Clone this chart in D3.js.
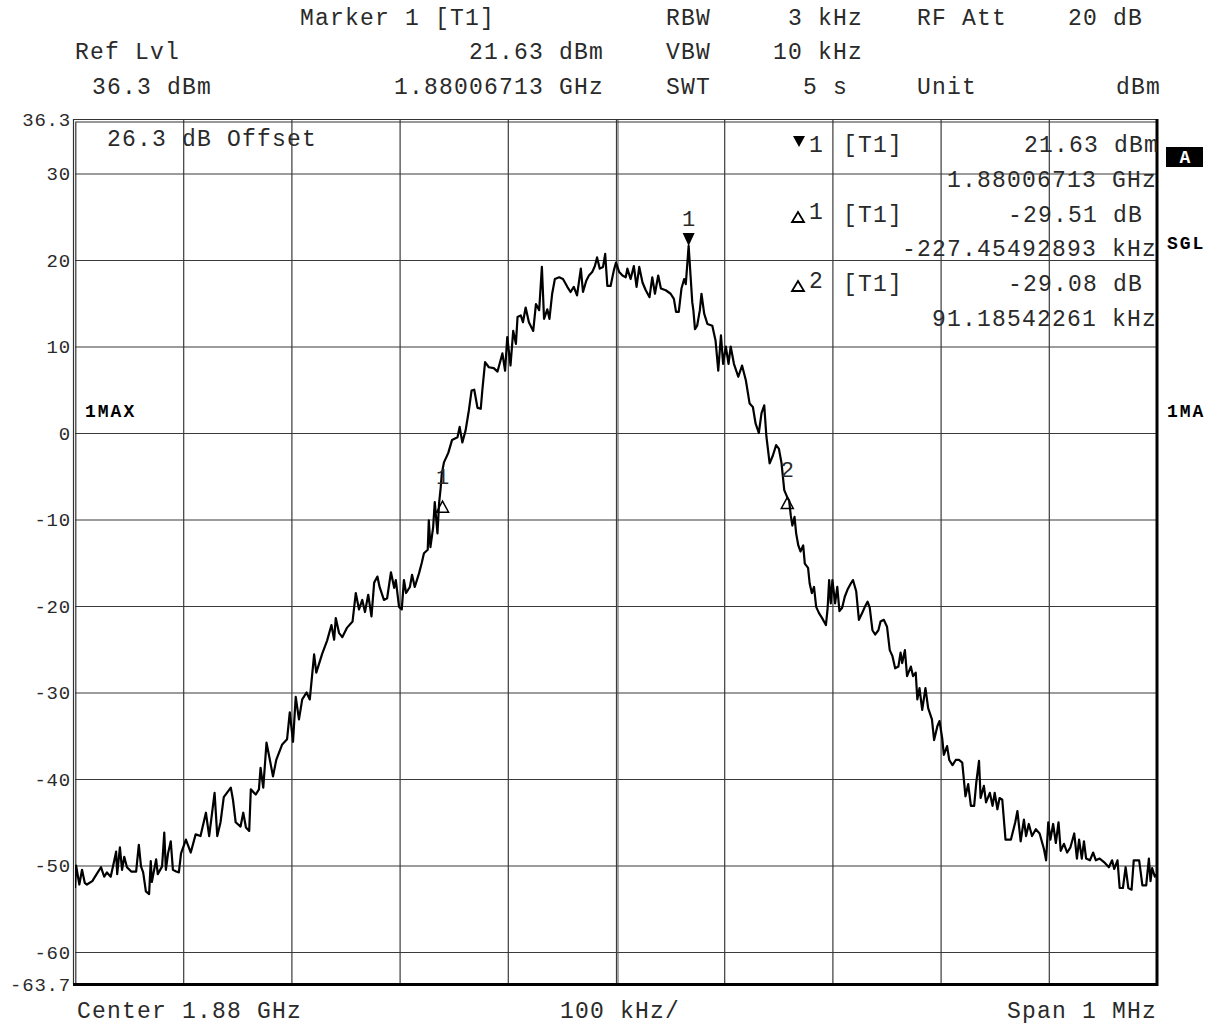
<!DOCTYPE html>
<html>
<head>
<meta charset="utf-8">
<script src="https://cdn.jsdelivr.net/npm/d3@7"></script>
<style>
  body { margin: 0; background: #fff; }
  svg { display: block; }
  text { font-family: "Liberation Mono", "DejaVu Sans Mono", monospace; fill: #2a2a2a; }
  .bold { font-weight: bold; fill: #000; }
</style>
</head>
<body>
<script>
// Trace: frequency offset from centre (kHz) and level (dBm).
const traceFreq = [
  -500, -499, -496, -493.5, -491, -489, -484, -480, -476, -473, -470.5, -467, -464, -462, -461,
  -458.5, -456.5, -454.5, -452, -448, -443.5, -441, -439, -437, -434.5, -431.5, -430, -429, -425,
  -423.5, -419.5, -417.5, -416, -414, -411.5, -409.5, -406.5, -404, -402, -397.5, -393, -388.5,
  -384, -379, -376, -371, -368.5, -365.5, -362.5, -356, -354, -351.5, -347, -344.5, -342, -339,
  -337.5, -333, -330, -328.5, -326, -323, -320.5, -317, -314, -308.5, -304, -301.5, -298.5, -296,
  -293, -290, -286, -283, -279, -277, -271.5, -267, -263, -260.5, -259, -256, -253, -248.5, -243.5,
  -240.5, -237.5, -234.5, -232, -229, -226, -223.5, -220.5, -218.5, -214.5, -211.5, -208, -205,
  -203.5, -200.5, -198, -196, -194, -190.5, -188.5, -186, -182, -179.5, -177.5, -174, -173, -171.5,
  -169, -167.5, -165, -163.5, -162, -161, -159, -155, -151.5, -146.5, -144.5, -142, -139, -136,
  -133.5, -131, -128, -125, -123.5, -121, -117.5, -113, -109.5, -105, -102.5, -100.5, -97.5, -95,
  -92.5, -91, -88, -86, -83.5, -80.5, -76.5, -74, -71, -68.5, -66.5, -63.5, -61.5, -59, -56.5,
  -52.5, -49, -45, -42, -39, -36, -32.5, -30.5, -27.5, -25, -22, -19.5, -17.5, -15, -12, -10, -8,
  -5, -2, 0, 3, 6, 9, 10.5, 13.5, 16.5, 19, 21.5, 24.5, 27.5, 31, 33.5, 36, 39, 41.5, 46, 50.5,
  53.5, 55.5, 58, 60.5, 63, 64.5, 67.13, 69, 70.5, 71.5, 73, 75, 77.5, 79, 81.5, 84.5, 89, 92,
  94.5, 97, 99, 101.5, 104, 106, 109, 113, 116.5, 120, 123.5, 126.5, 129, 132, 134.5, 137, 139,
  142, 145, 148, 150.5, 153, 155.5, 158.32, 160, 161.5, 163, 165, 166.5, 168.5, 170.5, 173, 174.5,
  177.5, 179, 181, 183, 185, 187.5, 190.5, 194, 195.5, 197, 198.5, 200, 202.5, 204.5, 206.5, 209,
  211.5, 214, 217, 219, 222, 224.5, 227.5, 230, 232.5, 234.5, 237, 239.5, 242.5, 244.5, 247.5,
  250.5, 253, 255.5, 258, 261, 263, 264.5, 267, 269, 272.5, 274.5, 277, 278.5, 280.5, 283, 286,
  288.5, 292, 294, 297, 299, 301.5, 303, 306, 308, 311, 314, 317, 320, 323, 325.5, 328, 331, 333,
  335.5, 337, 340, 342, 345.5, 348, 350, 352.5, 354.5, 357, 360, 365, 369, 371, 374, 377, 379,
  381.5, 384.5, 388, 391.5, 395.5, 397.5, 399.5, 401.5, 404, 406.5, 409, 411, 414, 417, 420,
  423.5, 426, 428, 430.5, 432.5, 434.5, 438, 441, 443.5, 447, 451, 455.5, 458.5, 460.5, 463.5,
  465.5, 468.5, 471, 473.5, 476.5, 478.5, 483.5, 486.5, 490, 492.5, 494, 495.5, 498, 500
];
const traceLevel = [
  -52.6, -50.0, -52.2, -50.5, -52.0, -52.2, -51.8, -51.0, -50.2, -51.3, -50.8, -51.3, -49.6, -48.4, -51.0,
  -47.9, -50.5, -49.0, -50.2, -50.7, -50.7, -47.6, -50.1, -50.8, -53.0, -53.3, -49.5, -51.9, -49.3,
  -51.0, -50.1, -46.2, -50.5, -48.6, -47.2, -50.5, -50.7, -50.8, -48.6, -47.0, -48.5, -46.4,
  -46.6, -43.9, -46.6, -41.6, -46.6, -45.0, -42.1, -41.0, -42.4, -45.0, -45.5, -43.9, -45.6, -46.0,
  -41.2, -41.8, -41.2, -38.7, -41.0, -35.8, -37.4, -39.7, -37.8, -36.0, -35.4, -32.3, -35.7, -30.5,
  -33.1, -30.8, -30.0, -30.8, -25.6, -27.7, -25.5, -24.0, -22.2, -23.9, -21.4, -23.1, -23.6, -22.5, -21.8,
  -18.5, -20.4, -19.3, -20.7, -18.7, -21.2, -17.3, -16.6, -17.8, -19.3, -19.1, -16.1, -17.9,
  -17.0, -20.1, -20.4, -17.0, -18.5, -17.8, -16.4, -17.8, -16.2, -15.0, -13.9, -13.5, -10.1, -13.2,
  -10.9, -8.0, -11.6, -8.1, -6.3, -4.7, -3.4, -2.3, -0.8, -0.5, 0.7, -1.1, 0.3, 2.6,
  4.9, 5.0, 2.9, 2.8, 5.0, 8.2, 7.6, 7.5, 7.1, 9.2, 7.2, 11.1, 7.8, 11.8,
  10.3, 13.4, 13.6, 12.8, 14.5, 12.8, 11.8, 14.9, 14.2, 19.2, 13.2, 14.3, 13.2, 16.1, 17.8,
  18.0, 17.8, 16.9, 16.3, 16.9, 15.9, 19.0, 16.3, 17.6, 18.2, 18.6, 19.3, 20.3, 19.0, 19.2, 20.7, 17.0,
  17.0, 18.8, 19.7, 18.6, 18.2, 18.0, 19.0, 17.8, 19.3, 16.9, 19.2, 17.4, 16.5, 15.7, 18.0, 16.1, 18.2, 16.7, 16.5, 16.1,
  15.5, 14.0, 14.0, 16.7, 17.8, 17.2, 21.63, 18.0, 15.1, 14.2, 12.0, 12.4, 14.2, 16.1, 13.8, 12.6, 12.4, 10.7,
  7.2, 11.3, 8.0, 10.0, 8.0, 10.0, 8.0, 6.5, 7.8, 6.1, 3.4, 3.0, 1.1, 0.0, 2.3, 3.2, -0.4,
  -3.5, -2.6, -1.4, -1.8, -3.5, -6.6, -7.45, -7.8, -9.5, -10.7, -9.7, -11.6, -13.0, -13.7, -13.0, -15.1,
  -15.6, -17.4, -18.5, -17.8, -20.1, -20.8, -21.4, -22.2, -20.4, -17.0, -19.7, -17.0, -19.7, -17.8, -20.6, -20.2,
  -18.9, -18.1, -17.4, -17.0, -18.3, -21.6, -20.8, -20.1, -19.5, -20.2, -22.8, -23.3, -22.8, -21.8, -21.6,
  -22.4, -25.1, -25.8, -27.2, -27.0, -25.4, -26.6, -25.1, -28.1, -27.0, -28.1, -27.7, -30.8, -29.5, -32.0, -29.5,
  -31.8, -33.1, -35.5, -33.9, -33.3, -35.3, -37.2, -36.2, -37.8, -38.4, -37.8, -37.8, -38.1, -42.0, -40.6, -43.1, -43.1, -40.4,
  -37.9, -42.2, -40.8, -42.7, -41.6, -43.1, -41.6, -43.5, -42.2, -42.4, -47.0, -47.0, -45.0, -43.7, -47.2, -44.7, -46.6,
  -45.2, -46.6, -45.8, -46.3, -48.1, -49.4, -45.0, -47.0, -45.2, -47.4, -45.0, -48.3, -47.5, -48.5, -47.9,
  -46.3, -49.2, -47.0, -49.2, -47.2, -49.2, -49.4, -48.5, -49.4, -49.2, -49.6, -50.2, -49.4, -50.4, -49.4,
  -52.6, -52.6, -50.2, -52.6, -52.8, -49.4, -49.4, -52.3, -52.3, -49.2, -51.8, -50.3, -51.3, -51.0
];

// Markers: position (kHz offset) and level (dBm)
const markerNames = ['1', '1', '2'];
const markerKinds = ['normal', 'delta', 'delta'];
const markerFreq = [67.13, -160.32, 158.32];
const markerLevel = [21.63, -7.88, -7.45];

// Axis ticks
const yTickValues = [36.3, 30, 20, 10, 0, -10, -20, -30, -40, -50, -60, -63.7];
const yGridValues = [30, 20, 10, 0, -10, -20, -30, -40, -50, -60];
const xGridValues = [-400, -300, -200, -100, 0, 100, 200, 300, 400];

const width = 1216;
const height = 1025;
const plotLeft = 75, plotRight = 1157, plotTop = 119, plotBottom = 984;

const svg = d3.select('body').append('svg')
    .attr('width', width)
    .attr('height', height);

const x = d3.scaleLinear().domain([-500, 500]).range([plotLeft, plotRight]);
const y = d3.scaleLinear().domain([-63.7, 36.3]).range([plotBottom, plotTop]);

// Grid
const gridY = svg.append('g')
    .attr('transform', `translate(${plotLeft},0)`)
    .call(d3.axisLeft(y).tickValues(yGridValues).tickSize(-(plotRight - plotLeft)).tickFormat(''));
const gridX = svg.append('g')
    .attr('transform', `translate(0,${plotBottom})`)
    .call(d3.axisBottom(x).tickValues(xGridValues).tickSize(-(plotBottom - plotTop)).tickFormat(''));
[gridY, gridX].forEach(g => {
  g.select('.domain').remove();
  g.selectAll('line').attr('stroke', '#3a3a3a').attr('stroke-width', 1.2);
});
// centre line is doubled on the screen
svg.append('line')
    .attr('x1', x(0) + 2).attr('x2', x(0) + 2)
    .attr('y1', plotTop).attr('y2', plotBottom)
    .attr('stroke', '#555').attr('stroke-width', 1);

// Y labels
const yAxis = svg.append('g')
    .attr('transform', `translate(${plotLeft},0)`)
    .call(d3.axisLeft(y).tickValues(yTickValues).tickSize(0).tickPadding(4).tickFormat(d => String(d)));
yAxis.select('.domain').remove();
yAxis.selectAll('text')
    .style('font-family', '"Liberation Mono", monospace')
    .style('font-size', '19px')
    .style('letter-spacing', '0.8px')
    .attr('fill', '#2a2a2a');

// Frame
const frame = svg.append('g').attr('fill', 'none');
frame.append('path').attr('d', `M${plotLeft - 1.5},${plotBottom} V${plotTop + 0.5} H${plotRight}`).attr('stroke', '#333').attr('stroke-width', 1.2);
frame.append('path').attr('d', `M${plotLeft + 0.8},${plotBottom} V${plotTop + 3} H${plotRight}`).attr('stroke', '#333').attr('stroke-width', 1.2);
frame.append('path').attr('d', `M${plotLeft - 2},${plotBottom + 0.5} H${plotRight} V${plotTop}`).attr('stroke', '#000').attr('stroke-width', 3);

// Trace
svg.append('clipPath').attr('id', 'plot')
  .append('rect').attr('x', plotLeft).attr('y', plotTop).attr('width', plotRight - plotLeft).attr('height', plotBottom - plotTop);

const line = d3.line()
    .x((d, i) => x(traceFreq[i]))
    .y((d, i) => y(traceLevel[i]));

svg.append('path')
    .attr('clip-path', 'url(#plot)')
    .attr('d', line(traceFreq))
    .attr('fill', 'none')
    .attr('stroke', '#000')
    .attr('stroke-width', 2.2)
    .attr('stroke-linejoin', 'round');

// Markers on the trace
markerNames.forEach((name, i) => {
  const mx = x(markerFreq[i]);
  const my = y(markerLevel[i]);
  if (markerKinds[i] === 'normal') {
    svg.append('path')
        .attr('d', `M${mx - 6},${my - 13} H${mx + 6} L${mx},${my} Z`)
        .attr('fill', '#000');
    svg.append('text').attr('x', mx).attr('y', my - 20)
        .attr('text-anchor', 'middle').style('font-size', '22px').attr('fill', '#444').text(name);
  } else {
    svg.append('path')
        .attr('d', `M${mx},${my} L${mx + 6},${my + 11} H${mx - 6} Z`)
        .attr('fill', 'none').attr('stroke', '#000').attr('stroke-width', 1.5);
    svg.append('text').attr('x', mx).attr('y', my - 17 - (name === '2' ? 3 : 0))
        .attr('text-anchor', 'middle').style('font-size', '22px').attr('fill', '#444').text(name);
  }
});

// Text helper
function label(tx, ty, str, anchor, cls) {
  const t = svg.append('text')
      .attr('x', tx).attr('y', ty)
      .attr('text-anchor', anchor || 'start')
      .style('font-size', '23px')
      .style('letter-spacing', '1.2px')
      .style('white-space', 'pre')
      .text(str);
  if (cls) t.attr('class', cls);
  return t;
}

// Header
label(300, 25, 'Marker 1 [T1]');
label(666, 25, 'RBW');
label(863, 25, '3 kHz', 'end');
label(917, 25, 'RF Att');
label(1143, 25, '20 dB', 'end');

label(75, 59, 'Ref Lvl');
label(604, 59, '21.63 dBm', 'end');
label(666, 59, 'VBW');
label(863, 59, '10 kHz', 'end');

label(92, 94, '36.3 dBm');
label(604, 94, '1.88006713 GHz', 'end');
label(666, 94, 'SWT');
label(848, 94, '5 s', 'end');
label(917, 94, 'Unit');
label(1161, 94, 'dBm', 'end');

// Inside plot
label(107, 146, '26.3 dB Offset');

const rowY = [152, 187, 222, 256, 291, 326];
svg.append('path').attr('d', `M793,136 H805 L799,147 Z`).attr('fill', '#000');
label(809, rowY[0], '1');
label(843, rowY[0], '[T1]');
label(1159, rowY[0], '21.63 dBm', 'end');
label(1157, rowY[1], '1.88006713 GHz', 'end');

svg.append('path').attr('d', `M798,${rowY[2] - 10} L804,${rowY[2]} H792 Z`)
    .attr('fill', 'none').attr('stroke', '#000').attr('stroke-width', 1.8);
label(809, rowY[2] - 3, '1');
label(843, rowY[2], '[T1]');
label(1143, rowY[2], '-29.51 dB', 'end');
label(1157, rowY[3], '-227.45492893 kHz', 'end');

svg.append('path').attr('d', `M798,${rowY[4] - 10} L804,${rowY[4]} H792 Z`)
    .attr('fill', 'none').attr('stroke', '#000').attr('stroke-width', 1.8);
label(809, rowY[4] - 3, '2');
label(843, rowY[4], '[T1]');
label(1143, rowY[4], '-29.08 dB', 'end');
label(1157, rowY[5], '91.18542261 kHz', 'end');

// Side labels
function smallBold(tx, ty, str, anchor) {
  return svg.append('text')
      .attr('x', tx).attr('y', ty)
      .attr('class', 'bold')
      .attr('text-anchor', anchor || 'start')
      .style('font-size', '18px')
      .style('letter-spacing', '2px')
      .text(str);
}
smallBold(85, 417, '1MAX');
smallBold(1167, 417, '1MA');
smallBold(1167, 249, 'SGL');
svg.append('rect').attr('x', 1166).attr('y', 147).attr('width', 37).attr('height', 20).attr('fill', '#000');
smallBold(1185, 163, 'A', 'middle').style('letter-spacing', '0px').style('fill', '#fff');

// Footer
label(77, 1018, 'Center 1.88 GHz');
label(560, 1018, '100 kHz/');
label(1157, 1018, 'Span 1 MHz', 'end');
</script>
</body>
</html>
